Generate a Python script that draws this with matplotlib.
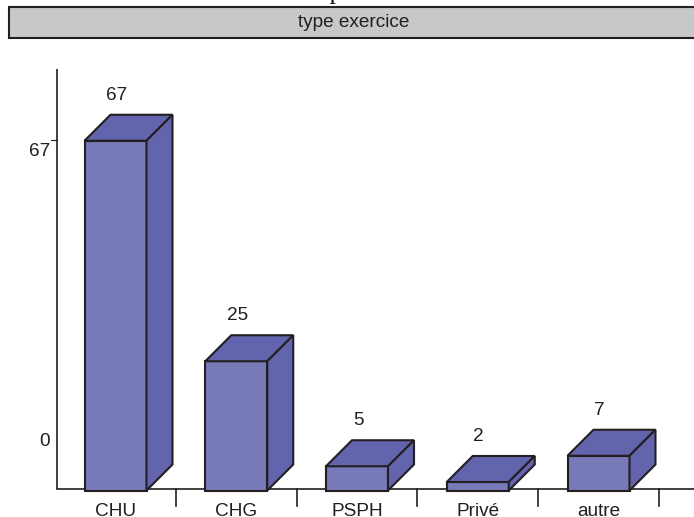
import matplotlib
matplotlib.use("Agg")
import matplotlib.pyplot as plt
from matplotlib.patches import Polygon, Rectangle

categories = ["CHU", "CHG", "PSPH", "Privé", "autre"]
values = [67, 25, 5, 2, 7]
y_tick_values = [67, 0]
title = "type exercice"
clipped_text = "Le nombre de citations est supérieur au nombre d'observations du"

W, H = 694, 517
PX_CAT = 120.75
PX_VAL = 5.25
X0, Y0 = 115.5, 492.5
FRONT = '#7779B8'
SIDE = '#6264AD'
EDGE = '#231F20'
TXT = '#231F20'
FS = 13.7

plt.rcParams['font.family'] = ['Liberation Sans', 'DejaVu Sans']
fig = plt.figure(figsize=(W / 100, H / 100), dpi=100)
ax = fig.add_axes([0, 0, 1, 1])
ax.set_xlim(-X0 / PX_CAT, (W - X0) / PX_CAT)
ax.set_ylim(-(H - Y0) / PX_VAL, Y0 / PX_VAL)
ax.axis('off')

hw = 31 / PX_CAT
dx = 26 / PX_CAT
dy = 26 / PX_VAL
lw = 1.5
bottom = 2 / PX_VAL

# axes
ax_x = (57 - X0) / PX_CAT
base = 3.5 / PX_VAL
ax.plot([ax_x, ax_x], [base, (Y0 - 69) / PX_VAL], color=EDGE, lw=1.2, zorder=1, solid_capstyle='butt')
ax.plot([ax_x, (W - X0) / PX_CAT], [base, base], color=EDGE, lw=1.2, zorder=1)
ax.plot([ax_x - 6 / PX_CAT, ax_x], [(Y0 - 139.5) / PX_VAL] * 2, color=EDGE, lw=0.8, zorder=1)

for i, (c, v) in enumerate(zip(categories, values)):
    l, r = i - hw, i + hw
    ax.add_patch(Rectangle((l, bottom), r - l, v - bottom, fc=FRONT, ec=EDGE, lw=lw, zorder=3))
    ax.add_patch(Polygon([(l, v), (r, v), (r + dx, v + dy), (l + dx, v + dy)], fc=SIDE, ec=EDGE, lw=lw, zorder=3))
    ax.add_patch(Polygon([(r, bottom), (r + dx, bottom + dy), (r + dx, v + dy), (r, v)],
                         fc=SIDE, ec=EDGE, lw=lw, zorder=3))
    ax.text(i + 1 / PX_CAT, v + dy + 11 / PX_VAL, str(v), ha='center', va='bottom', fontsize=FS, color=TXT, zorder=4)
    ax.text(i, -18.5 / PX_VAL, c, ha='center', va='center', fontsize=FS, color=TXT)
    ax.plot([i + 0.5] * 2, [base, -13 / PX_VAL], color=EDGE, lw=1.2, zorder=1)

# y-axis value labels
ax.text(ax_x - 7 / PX_CAT, 67 - 11 / PX_VAL, str(y_tick_values[0]), ha='right', va='center', fontsize=FS, color=TXT)
ax.text(ax_x - 7 / PX_CAT, 51 / PX_VAL, str(y_tick_values[1]), ha='right', va='center', fontsize=FS, color=TXT)

# title band
fig.add_artist(Rectangle((9 / W, 1 - 38 / H), (W + 5 - 9) / W, 31 / H, transform=fig.transFigure,
                         fc='#C7C8CA', ec=EDGE, lw=1.5))
fig.text(354 / W, 1 - 22.5 / H, title, ha='center', va='center', fontsize=FS, color=TXT)

# clipped sentence at the top edge
fig.text(20 / W, 1 + 1.0 / H, clipped_text, ha='left', va='baseline', fontsize=19, color='#111111',
         family=['Liberation Serif', 'DejaVu Serif'])

fig.savefig("out.png", dpi=100)
